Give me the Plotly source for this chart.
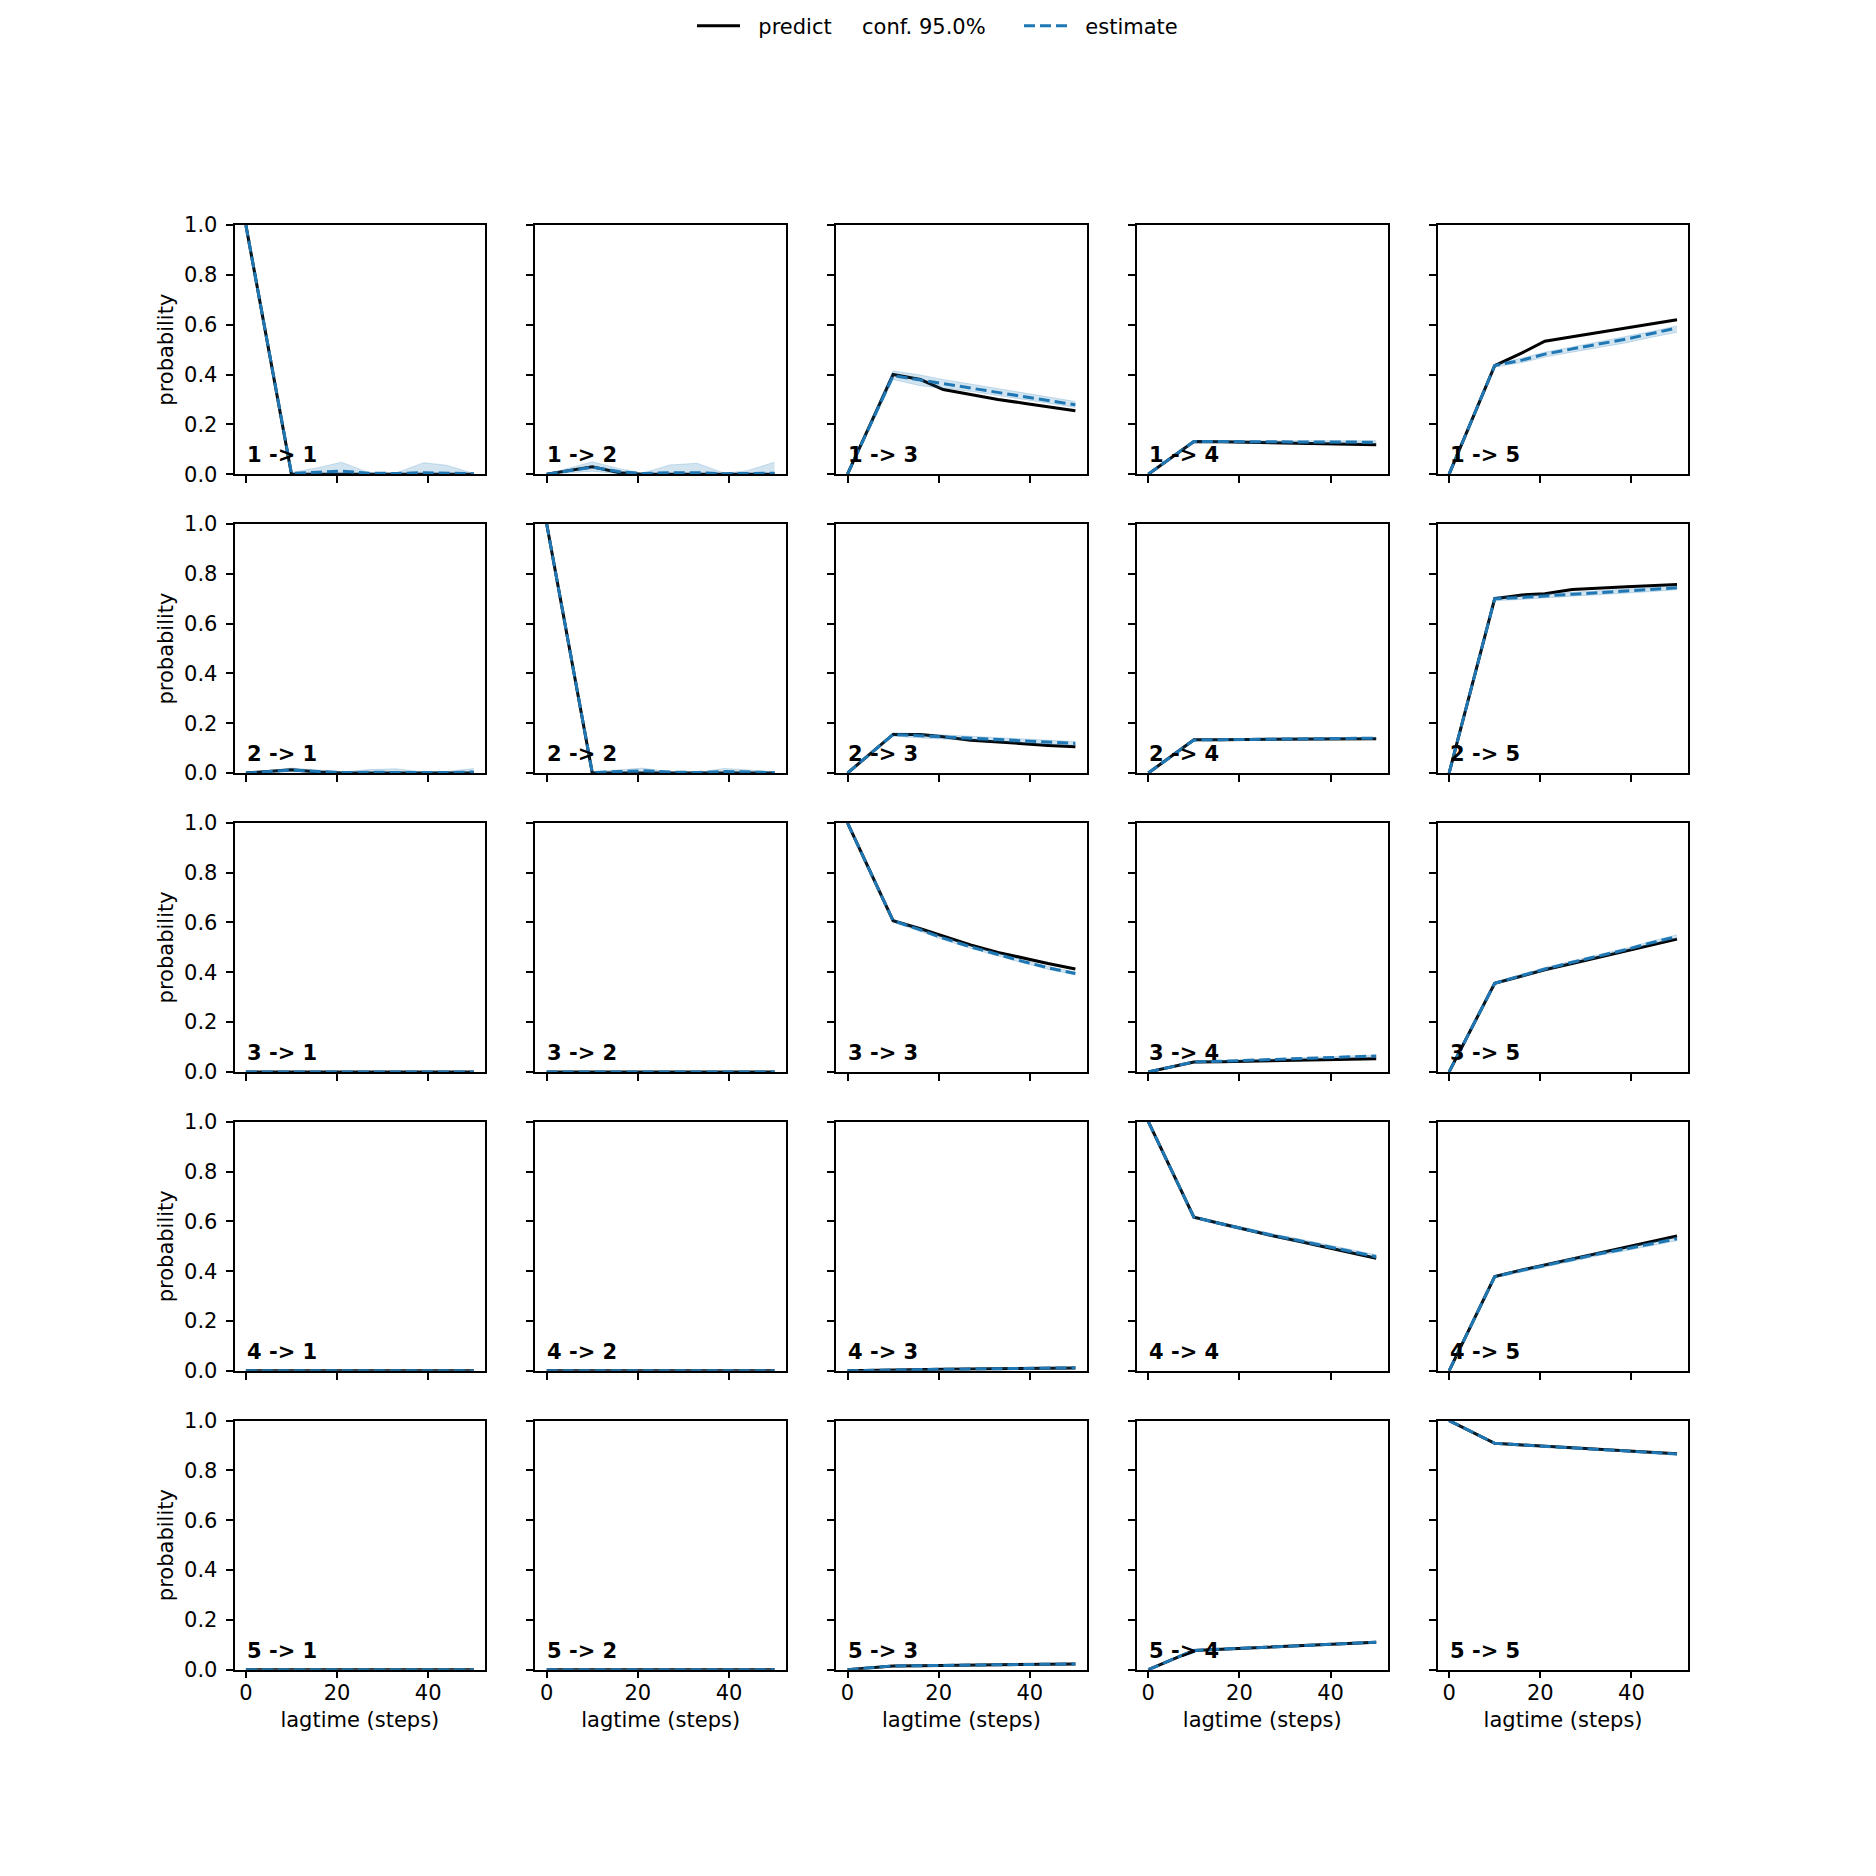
import plotly.graph_objects as go

# lagtimes (steps) at which the CK test was evaluated
lagtimes = [0, 10, 16, 21, 27, 33, 39, 44, 50]
states = [1, 2, 3, 4, 5]

# row i = transitions starting in state i, one list per target state
predict_from_1 = [
    [1, 0, 0, 0, 0, 0, 0, 0, 0],
    [0, 0.03, 0.006, 0, 0, 0, 0, 0, 0],
    [0, 0.40, 0.38, 0.34, 0.32, 0.30, 0.284, 0.27, 0.255],
    [0, 0.131, 0.13, 0.128, 0.126, 0.124, 0.122, 0.12, 0.118],
    [0, 0.436, 0.487, 0.534, 0.552, 0.57, 0.587, 0.603, 0.62],
]
estimate_from_1 = [
    [1, 0.003, 0.008, 0.012, 0.004, 0.003, 0.006, 0.005, 0.002],
    [0, 0.028, 0.01, 0.003, 0.006, 0.006, 0.002, 0.003, 0.004],
    [0, 0.395, 0.378, 0.363, 0.346, 0.328, 0.311, 0.296, 0.279],
    [0, 0.131, 0.131, 0.13, 0.13, 0.13, 0.129, 0.129, 0.128],
    [0, 0.436, 0.458, 0.482, 0.503, 0.523, 0.543, 0.563, 0.587],
]
lower_from_1 = [
    [1, 0, 0, 0, 0, 0, 0, 0, 0],
    [0, 0.012, 0.002, 0, 0, 0, 0, 0, 0],
    [0, 0.38, 0.355, 0.345, 0.333, 0.316, 0.299, 0.284, 0.268],
    [0, 0.126, 0.126, 0.125, 0.125, 0.124, 0.123, 0.123, 0.122],
    [0, 0.43, 0.448, 0.47, 0.49, 0.509, 0.528, 0.548, 0.57],
]
upper_from_1 = [
    [1, 0.006, 0.027, 0.048, 0.006, 0.005, 0.046, 0.036, 0.003],
    [0, 0.05, 0.022, 0.004, 0.037, 0.044, 0.004, 0.014, 0.048],
    [0, 0.415, 0.398, 0.38, 0.362, 0.343, 0.325, 0.31, 0.292],
    [0, 0.135, 0.135, 0.135, 0.135, 0.135, 0.134, 0.134, 0.134],
    [0, 0.442, 0.466, 0.49, 0.511, 0.532, 0.552, 0.572, 0.595],
]

predict_from_2 = [
    [0, 0.013, 0.004, 0, 0, 0, 0, 0, 0],
    [1, 0, 0, 0, 0, 0, 0, 0, 0],
    [0, 0.155, 0.155, 0.146, 0.132, 0.124, 0.117, 0.111, 0.106],
    [0, 0.134, 0.134, 0.135, 0.135, 0.136, 0.137, 0.137, 0.138],
    [0, 0.70, 0.715, 0.72, 0.737, 0.744, 0.748, 0.752, 0.757],
]
estimate_from_2 = [
    [0, 0.012, 0.006, 0.002, 0.003, 0.004, 0.002, 0.002, 0.004],
    [1, 0.002, 0.006, 0.009, 0.004, 0.002, 0.006, 0.005, 0.002],
    [0, 0.155, 0.15, 0.145, 0.139, 0.134, 0.129, 0.124, 0.119],
    [0, 0.133, 0.134, 0.135, 0.136, 0.137, 0.138, 0.139, 0.14],
    [0, 0.70, 0.705, 0.712, 0.718, 0.724, 0.73, 0.736, 0.744],
]
lower_from_2 = [
    [0, 0.005, 0.001, 0, 0, 0, 0, 0, 0],
    [1, 0, 0, 0, 0, 0, 0, 0, 0],
    [0, 0.148, 0.141, 0.136, 0.131, 0.126, 0.121, 0.116, 0.111],
    [0, 0.129, 0.13, 0.131, 0.132, 0.133, 0.134, 0.135, 0.136],
    [0, 0.692, 0.697, 0.704, 0.71, 0.716, 0.722, 0.728, 0.736],
]
upper_from_2 = [
    [0, 0.02, 0.012, 0.004, 0.014, 0.017, 0.004, 0.006, 0.018],
    [1, 0.004, 0.013, 0.02, 0.005, 0.003, 0.018, 0.013, 0.003],
    [0, 0.162, 0.158, 0.153, 0.147, 0.142, 0.137, 0.132, 0.127],
    [0, 0.137, 0.138, 0.139, 0.14, 0.141, 0.142, 0.143, 0.144],
    [0, 0.708, 0.713, 0.72, 0.726, 0.732, 0.738, 0.744, 0.752],
]

predict_from_3 = [
    [0, 0, 0, 0, 0, 0, 0, 0, 0],
    [0, 0, 0, 0, 0, 0, 0, 0, 0],
    [1, 0.607, 0.575, 0.545, 0.51, 0.48, 0.455, 0.435, 0.413],
    [0, 0.04, 0.041, 0.043, 0.045, 0.047, 0.049, 0.051, 0.053],
    [0, 0.356, 0.385, 0.41, 0.435, 0.46, 0.485, 0.508, 0.533],
]
estimate_from_3 = [
    [0, 0, 0, 0, 0, 0, 0, 0, 0],
    [0, 0, 0, 0, 0, 0, 0, 0, 0],
    [1, 0.607, 0.57, 0.537, 0.502, 0.47, 0.441, 0.418, 0.395],
    [0, 0.04, 0.043, 0.046, 0.05, 0.053, 0.057, 0.06, 0.064],
    [0, 0.356, 0.387, 0.413, 0.44, 0.466, 0.492, 0.517, 0.544],
]
lower_from_3 = [
    [0, 0, 0, 0, 0, 0, 0, 0, 0],
    [0, 0, 0, 0, 0, 0, 0, 0, 0],
    [1, 0.601, 0.564, 0.531, 0.496, 0.464, 0.435, 0.412, 0.389],
    [0, 0.038, 0.041, 0.044, 0.047, 0.05, 0.054, 0.057, 0.06],
    [0, 0.351, 0.381, 0.407, 0.434, 0.46, 0.486, 0.511, 0.537],
]
upper_from_3 = [
    [0, 0, 0, 0, 0, 0, 0, 0, 0],
    [0, 0, 0, 0, 0, 0, 0, 0, 0],
    [1, 0.613, 0.576, 0.543, 0.508, 0.476, 0.447, 0.424, 0.401],
    [0, 0.042, 0.045, 0.048, 0.053, 0.056, 0.06, 0.063, 0.068],
    [0, 0.361, 0.393, 0.419, 0.446, 0.472, 0.498, 0.523, 0.551],
]

predict_from_4 = [
    [0, 0, 0, 0, 0, 0, 0, 0, 0],
    [0, 0, 0, 0, 0, 0, 0, 0, 0],
    [0, 0.004, 0.005, 0.006, 0.007, 0.008, 0.009, 0.01, 0.011],
    [1, 0.617, 0.59, 0.568, 0.543, 0.52, 0.497, 0.477, 0.452],
    [0, 0.378, 0.405, 0.425, 0.45, 0.475, 0.497, 0.517, 0.541],
]
estimate_from_4 = [
    [0, 0, 0, 0, 0, 0, 0, 0, 0],
    [0, 0, 0, 0, 0, 0, 0, 0, 0],
    [0, 0.004, 0.005, 0.006, 0.007, 0.008, 0.009, 0.01, 0.012],
    [1, 0.617, 0.59, 0.569, 0.545, 0.523, 0.501, 0.482, 0.458],
    [0, 0.378, 0.403, 0.423, 0.447, 0.47, 0.49, 0.509, 0.53],
]
lower_from_4 = [
    [0, 0, 0, 0, 0, 0, 0, 0, 0],
    [0, 0, 0, 0, 0, 0, 0, 0, 0],
    [0, 0.003, 0.004, 0.005, 0.006, 0.007, 0.008, 0.009, 0.01],
    [1, 0.612, 0.584, 0.563, 0.539, 0.516, 0.494, 0.475, 0.45],
    [0, 0.373, 0.397, 0.417, 0.441, 0.463, 0.483, 0.502, 0.522],
]
upper_from_4 = [
    [0, 0, 0, 0, 0, 0, 0, 0, 0],
    [0, 0, 0, 0, 0, 0, 0, 0, 0],
    [0, 0.005, 0.006, 0.007, 0.008, 0.009, 0.01, 0.011, 0.014],
    [1, 0.622, 0.596, 0.575, 0.551, 0.53, 0.508, 0.489, 0.466],
    [0, 0.383, 0.409, 0.429, 0.453, 0.477, 0.497, 0.516, 0.538],
]

predict_from_5 = [
    [0, 0, 0, 0, 0, 0, 0, 0, 0],
    [0, 0, 0, 0, 0, 0, 0, 0, 0],
    [0, 0.015, 0.016, 0.017, 0.018, 0.019, 0.02, 0.021, 0.023],
    [0, 0.077, 0.082, 0.086, 0.091, 0.096, 0.1, 0.105, 0.11],
    [1, 0.909, 0.902, 0.897, 0.891, 0.885, 0.879, 0.873, 0.867],
]
estimate_from_5 = [
    [0, 0, 0, 0, 0, 0, 0, 0, 0],
    [0, 0, 0, 0, 0, 0, 0, 0, 0],
    [0, 0.015, 0.016, 0.017, 0.018, 0.019, 0.02, 0.021, 0.023],
    [0, 0.077, 0.082, 0.086, 0.091, 0.096, 0.1, 0.105, 0.11],
    [1, 0.909, 0.902, 0.896, 0.89, 0.884, 0.878, 0.872, 0.866],
]
lower_from_5 = [
    [0, 0, 0, 0, 0, 0, 0, 0, 0],
    [0, 0, 0, 0, 0, 0, 0, 0, 0],
    [0, 0.014, 0.015, 0.016, 0.017, 0.018, 0.019, 0.02, 0.022],
    [0, 0.075, 0.08, 0.084, 0.089, 0.094, 0.098, 0.103, 0.108],
    [1, 0.906, 0.899, 0.893, 0.887, 0.881, 0.875, 0.869, 0.863],
]
upper_from_5 = [
    [0, 0, 0, 0, 0, 0, 0, 0, 0],
    [0, 0, 0, 0, 0, 0, 0, 0, 0],
    [0, 0.016, 0.017, 0.018, 0.019, 0.02, 0.021, 0.022, 0.024],
    [0, 0.079, 0.084, 0.088, 0.093, 0.098, 0.102, 0.107, 0.112],
    [1, 0.912, 0.905, 0.899, 0.893, 0.887, 0.881, 0.875, 0.869],
]

predict = [predict_from_1, predict_from_2, predict_from_3, predict_from_4, predict_from_5]
estimate = [estimate_from_1, estimate_from_2, estimate_from_3, estimate_from_4, estimate_from_5]
lower = [lower_from_1, lower_from_2, lower_from_3, lower_from_4, lower_from_5]
upper = [upper_from_1, upper_from_2, upper_from_3, upper_from_4, upper_from_5]

yticks = [0, 0.2, 0.4, 0.6, 0.8, 1.0]
xticks = [0, 20, 40]

W = H = 1876
FONT = "DejaVu Sans"
FS = 21
BLUE = "#1f77b4"
BAND = "rgba(31,119,180,0.2)"
NB = "\u00a0"

# the page body has an 8px margin; shift everything back by that much
OFF = 8 / W

# matplotlib-like subplot geometry
left, right, bottom, top = 0.125, 0.9, 0.11, 0.88
n = len(states)
pw = (right - left) / (n + 0.2 * (n - 1))
ph = (top - bottom) / (n + 0.2 * (n - 1))

fig = go.Figure()
layout = {}
annotations = []

for r in range(n):
    for c in range(n):
        k = r * n + c + 1
        xa = "x" if k == 1 else "x%d" % k
        ya = "y" if k == 1 else "y%d" % k
        first = (k == 1)

        fig.add_trace(go.Scatter(
            x=lagtimes, y=predict[r][c], xaxis=xa, yaxis=ya, mode="lines",
            line=dict(color="black", width=3), name=NB * 2 + "predict",
            showlegend=first, legend="legend"))
        fig.add_trace(go.Scatter(
            x=lagtimes, y=lower[r][c], xaxis=xa, yaxis=ya, mode="lines",
            line=dict(color=BAND, width=1), showlegend=False, hoverinfo="skip"))
        fig.add_trace(go.Scatter(
            x=lagtimes, y=upper[r][c], xaxis=xa, yaxis=ya, mode="lines",
            line=dict(color=BAND, width=1), fill="tonexty", fillcolor=BAND,
            showlegend=False, hoverinfo="skip"))
        fig.add_trace(go.Scatter(
            x=lagtimes, y=estimate[r][c], xaxis=xa, yaxis=ya, mode="lines",
            line=dict(color=BLUE, width=3, dash="11px,5px"), name=NB * 2 + "estimate",
            showlegend=first, legend="legend3"))

        x0 = left + c * pw * 1.2 - OFF
        y1 = top - r * ph * 1.2 + OFF
        axis_common = dict(
            showline=True, mirror=True, linecolor="black", linewidth=1.7,
            ticks="outside", ticklen=7, tickwidth=1.7, tickcolor="black",
            showgrid=False, zeroline=False, automargin=False,
            tickfont=dict(family=FONT, size=FS, color="black"),
        )
        layout["xaxis" if k == 1 else "xaxis%d" % k] = dict(
            axis_common, domain=[x0, x0 + pw], range=[-2.5, 52.5],
            tickvals=xticks, showticklabels=(r == n - 1), ticklabelstandoff=-4,
            anchor=ya,
            title=dict(text="lagtime (steps)" if r == n - 1 else "",
                       font=dict(family=FONT, size=FS, color="black"), standoff=9),
        )
        layout["yaxis" if k == 1 else "yaxis%d" % k] = dict(
            axis_common, domain=[y1 - ph, y1], range=[0, 1],
            tickvals=yticks, tickformat=".1f", showticklabels=(c == 0),
            ticklabelstandoff=4, anchor=xa,
            title=dict(text="probability" if c == 0 else "",
                       font=dict(family=FONT, size=FS, color="black"), standoff=5),
        )
        annotations.append(dict(
            text="%d -> %d" % (states[r], states[c]),
            xref=xa + " domain", yref=ya + " domain", x=0.04, y=0.02,
            xanchor="left", yanchor="bottom", showarrow=False,
            font=dict(family=FONT, size=FS, color="black", weight="bold"),
        ))

# legend entry for the confidence band (matplotlib shows no handle for it)
fig.add_trace(go.Scatter(
    x=[None], y=[None], mode="lines", line=dict(color="rgba(0,0,0,0)", width=3),
    name="conf. 95.0%", legend="legend2"))

leg_y = 1 - 26 / H + OFF
leg_common = dict(orientation="h", xanchor="left", y=leg_y, yanchor="middle",
                  font=dict(family=FONT, size=FS, color="black"),
                  bgcolor="rgba(0,0,0,0)", borderwidth=0)

fig.update_layout(
    width=W, height=H,
    margin=dict(l=0, r=0, t=0, b=0, pad=0, autoexpand=False),
    paper_bgcolor="white", plot_bgcolor="white",
    font=dict(family=FONT, size=FS, color="black"),
    legend=dict(leg_common, x=692 / W - OFF, itemwidth=43),
    legend2=dict(leg_common, x=822 / W - OFF, itemwidth=30),
    legend3=dict(leg_common, x=1019 / W - OFF, itemwidth=43),
    annotations=annotations,
    **layout,
)

fig.write_html("out.html")
